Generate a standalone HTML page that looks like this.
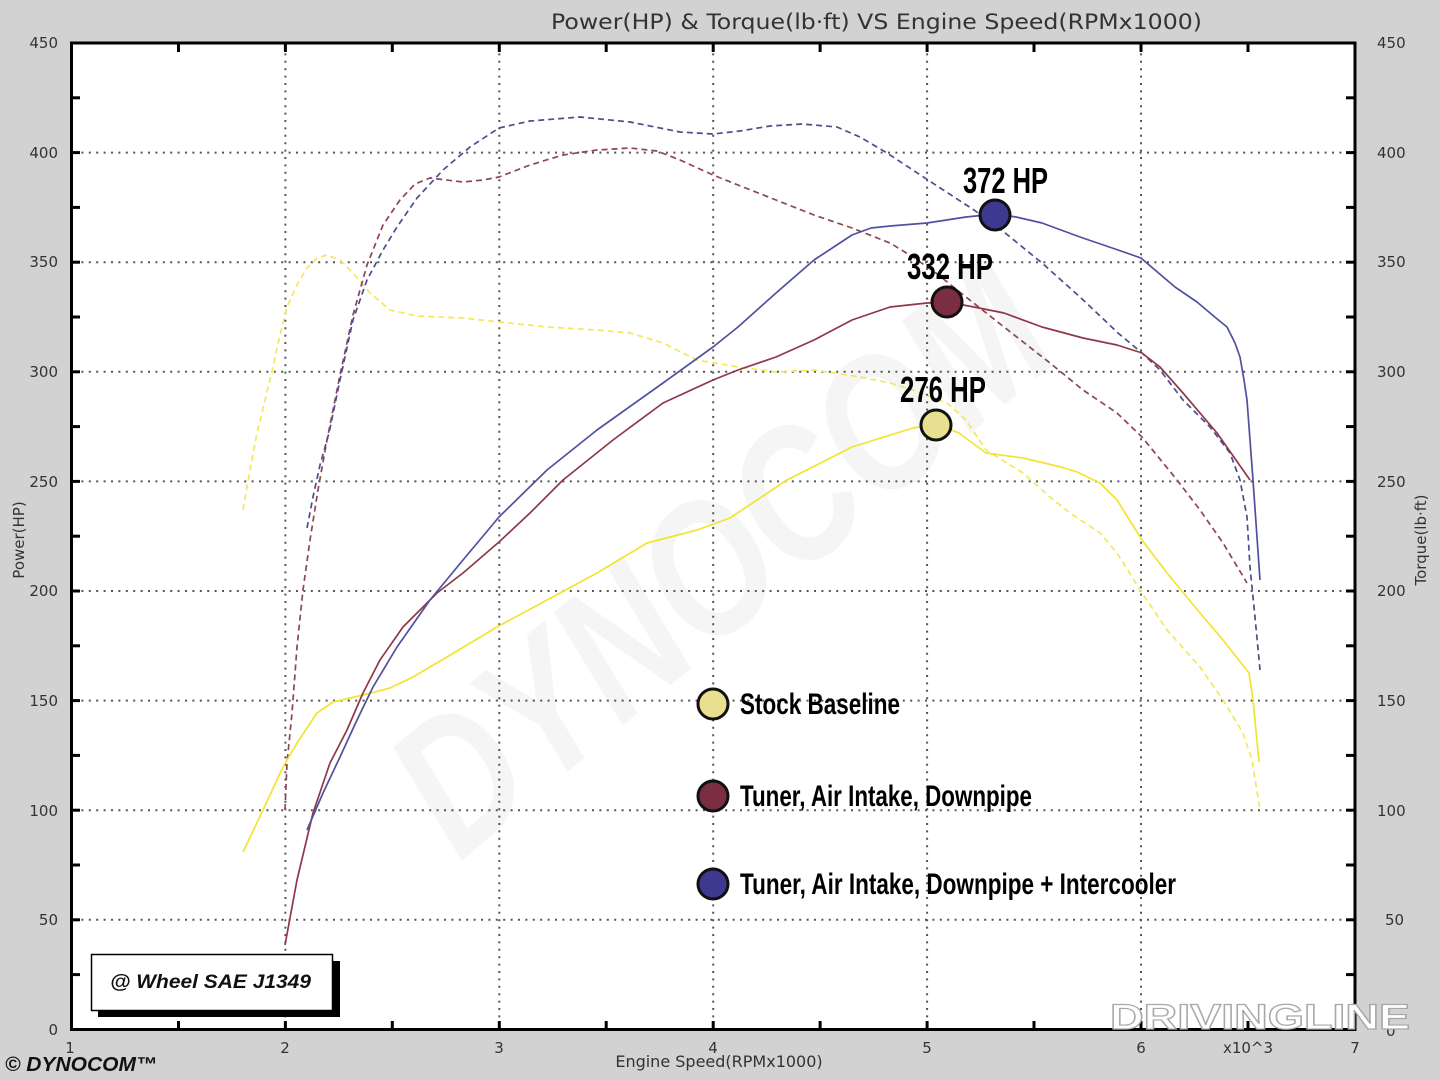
<!DOCTYPE html>
<html><head><meta charset="utf-8"><style>
html,body{margin:0;padding:0;background:#d2d2d2;}
svg{display:block;}
</style></head><body>
<svg width="1440" height="1080" viewBox="0 0 1440 1080" xmlns="http://www.w3.org/2000/svg">
<rect x="0" y="0" width="1440" height="1080" fill="#d2d2d2"/>
<rect x="71.5" y="43" width="1283.5" height="986.5" fill="#ffffff"/>
<!-- DYNOCOM watermark -->
<text x="0" y="0" transform="translate(730,570) rotate(-40)" text-anchor="middle" font-family="Liberation Sans, sans-serif" font-weight="bold" font-style="italic" font-size="190" fill="#f5f5f5" textLength="790" lengthAdjust="spacingAndGlyphs" dominant-baseline="middle">DYNOCOM</text>
<!-- grid -->
<g stroke="#555" stroke-width="2" stroke-dasharray="2 5.4" fill="none">
<line x1="74" y1="152.6" x2="1352" y2="152.6"/>
<line x1="74" y1="262.2" x2="1352" y2="262.2"/>
<line x1="74" y1="371.8" x2="1352" y2="371.8"/>
<line x1="74" y1="481.4" x2="1352" y2="481.4"/>
<line x1="74" y1="591" x2="1352" y2="591"/>
<line x1="74" y1="700.6" x2="1352" y2="700.6"/>
<line x1="74" y1="810.2" x2="1352" y2="810.2"/>
<line x1="74" y1="919.8" x2="1352" y2="919.8"/>
<line x1="285.4" y1="46" x2="285.4" y2="1027"/>
<line x1="499.3" y1="46" x2="499.3" y2="1027"/>
<line x1="713.2" y1="46" x2="713.2" y2="1027"/>
<line x1="927.1" y1="46" x2="927.1" y2="1027"/>
<line x1="1141" y1="46" x2="1141" y2="1027"/>
</g>
<!-- curves: dashed torque -->
<g fill="none" stroke-width="1.7" stroke-linejoin="round" stroke-linecap="butt" stroke-dasharray="6 4">
<polyline stroke="#f3e85a" points="243,510 250,470 257,433 265,400 273,367 280,335 287,307 297,285 307,268 317,258 327,255 340,260 353,273 370,293 390,310 417,316 463,318 499,322 547,327 597,330 630,333 663,343 697,360 738,367 776,372 814,370 860,377 890,383 913,390 947,403 966,420 986,450 1023,473 1050,497 1070,513 1100,533 1117,553 1142,593 1167,630 1200,667 1223,700 1243,733 1252,760 1260,810"/>
<polyline stroke="#8c4656" points="285,810 287,763 292,713 297,647 303,590 310,540 318,490 327,440 340,375 353,315 367,265 383,225 400,200 415,184 430,178 463,182 483,180 499,177 530,165 563,155 597,150 630,148 657,151 680,160 713,175 738,185 776,200 814,215 852,228 890,243 913,257 936,273 966,297 1004,327 1050,363 1083,390 1117,413 1142,437 1177,480 1200,510 1223,543 1247,583"/>
<polyline stroke="#4d4d8e" points="307,528 313,497 320,465 329,433 340,380 353,320 367,280 383,250 397,227 417,198 443,170 470,147 499,128 530,121 580,117 630,122 680,132 713,134 740,131 770,126 802,124 837,127 860,137 887,153 928,180 974,210 1004,232 1042,263 1080,297 1118,333 1142,353 1160,370 1183,400 1210,427 1230,453 1240,480 1247,517 1250,567 1255,617 1260,670"/>
</g>
<!-- solid HP -->
<g fill="none" stroke-width="1.7" stroke-linejoin="round">
<polyline stroke="#f2e431" points="243,852 263,810 283,767 297,743 317,713 333,702 363,695 390,688 413,677 447,657 497,627 547,600 597,573 647,543 697,530 730,518 787,480 852,447 913,428 936,424 959,433 986,453 1023,458 1061,467 1077,472 1100,483 1117,500 1142,540 1167,573 1200,613 1223,640 1249,673 1253,700 1259,762"/>
<polyline stroke="#8e3848" points="285,945 297,880 313,813 330,763 347,730 363,693 380,660 403,627 437,593 463,573 499,542 530,513 563,480 613,440 663,403 713,380 738,370 776,357 814,340 852,320 890,307 927,303 947,302 974,307 1004,313 1042,327 1083,338 1117,345 1142,353 1160,367 1183,393 1217,433 1250,480"/>
<polyline stroke="#5050a0" points="307,830 323,793 340,757 357,720 373,687 397,647 430,600 463,560 499,517 547,470 597,430 663,383 713,347 738,327 776,293 814,260 852,235 871,228 890,226 927,223 966,217 996,214 1016,217 1042,223 1080,237 1118,250 1141,258 1175,287 1197,302 1216,318 1227,327 1235,343 1240,357 1244,380 1247,400 1253,480 1260,580"/>
</g>
<!-- frame -->
<rect x="71.5" y="43" width="1283.5" height="986.5" fill="none" stroke="#000" stroke-width="3"/>
<!-- ticks -->
<g stroke="#000" stroke-width="3">
<line x1="178.5" y1="43" x2="178.5" y2="52"/><line x1="285.4" y1="43" x2="285.4" y2="52"/><line x1="392.3" y1="43" x2="392.3" y2="52"/><line x1="499.3" y1="43" x2="499.3" y2="52"/><line x1="606.2" y1="43" x2="606.2" y2="52"/><line x1="713.2" y1="43" x2="713.2" y2="52"/><line x1="820.1" y1="43" x2="820.1" y2="52"/><line x1="927.1" y1="43" x2="927.1" y2="52"/><line x1="1034" y1="43" x2="1034" y2="52"/><line x1="1141" y1="43" x2="1141" y2="52"/><line x1="1248" y1="43" x2="1248" y2="52"/>
<line x1="178.5" y1="1029.5" x2="178.5" y2="1021"/><line x1="285.4" y1="1029.5" x2="285.4" y2="1021"/><line x1="392.3" y1="1029.5" x2="392.3" y2="1021"/><line x1="499.3" y1="1029.5" x2="499.3" y2="1021"/><line x1="606.2" y1="1029.5" x2="606.2" y2="1021"/><line x1="713.2" y1="1029.5" x2="713.2" y2="1021"/><line x1="820.1" y1="1029.5" x2="820.1" y2="1021"/><line x1="927.1" y1="1029.5" x2="927.1" y2="1021"/><line x1="1034" y1="1029.5" x2="1034" y2="1021"/><line x1="1141" y1="1029.5" x2="1141" y2="1021"/><line x1="1248" y1="1029.5" x2="1248" y2="1021"/>
<line x1="71.5" y1="97.8" x2="80" y2="97.8"/><line x1="71.5" y1="152.6" x2="80" y2="152.6"/><line x1="71.5" y1="207.4" x2="80" y2="207.4"/><line x1="71.5" y1="262.2" x2="80" y2="262.2"/><line x1="71.5" y1="317" x2="80" y2="317"/><line x1="71.5" y1="371.8" x2="80" y2="371.8"/><line x1="71.5" y1="426.6" x2="80" y2="426.6"/><line x1="71.5" y1="481.4" x2="80" y2="481.4"/><line x1="71.5" y1="536.2" x2="80" y2="536.2"/><line x1="71.5" y1="591" x2="80" y2="591"/><line x1="71.5" y1="645.8" x2="80" y2="645.8"/><line x1="71.5" y1="700.6" x2="80" y2="700.6"/><line x1="71.5" y1="755.4" x2="80" y2="755.4"/><line x1="71.5" y1="810.2" x2="80" y2="810.2"/><line x1="71.5" y1="865" x2="80" y2="865"/><line x1="71.5" y1="919.8" x2="80" y2="919.8"/><line x1="71.5" y1="974.6" x2="80" y2="974.6"/>
<line x1="1355" y1="97.8" x2="1346" y2="97.8"/><line x1="1355" y1="152.6" x2="1346" y2="152.6"/><line x1="1355" y1="207.4" x2="1346" y2="207.4"/><line x1="1355" y1="262.2" x2="1346" y2="262.2"/><line x1="1355" y1="317" x2="1346" y2="317"/><line x1="1355" y1="371.8" x2="1346" y2="371.8"/><line x1="1355" y1="426.6" x2="1346" y2="426.6"/><line x1="1355" y1="481.4" x2="1346" y2="481.4"/><line x1="1355" y1="536.2" x2="1346" y2="536.2"/><line x1="1355" y1="591" x2="1346" y2="591"/><line x1="1355" y1="645.8" x2="1346" y2="645.8"/><line x1="1355" y1="700.6" x2="1346" y2="700.6"/><line x1="1355" y1="755.4" x2="1346" y2="755.4"/><line x1="1355" y1="810.2" x2="1346" y2="810.2"/><line x1="1355" y1="865" x2="1346" y2="865"/><line x1="1355" y1="919.8" x2="1346" y2="919.8"/><line x1="1355" y1="974.6" x2="1346" y2="974.6"/>
</g>
<!-- markers -->
<g stroke="#111" stroke-width="3">
<circle cx="995" cy="215" r="15" fill="#3d3890"/>
<circle cx="947" cy="302" r="15" fill="#7b2e42"/>
<circle cx="936" cy="425" r="15" fill="#e8e090"/>
<circle cx="713" cy="704" r="15" fill="#e8e090"/>
<circle cx="713" cy="796" r="15" fill="#7b2e42"/>
<circle cx="713" cy="884" r="15" fill="#3d3890"/>
</g>
<!-- labels HP -->
<g font-family="Liberation Sans Narrow, Liberation Sans, sans-serif" font-weight="bold" fill="#000">
<text x="963" y="193" font-size="36" textLength="85" lengthAdjust="spacingAndGlyphs">372 HP</text>
<text x="907" y="279" font-size="36" textLength="86" lengthAdjust="spacingAndGlyphs">332 HP</text>
<text x="900" y="402" font-size="36" textLength="86" lengthAdjust="spacingAndGlyphs">276 HP</text>
<text x="740" y="714" font-size="30" textLength="160" lengthAdjust="spacingAndGlyphs">Stock Baseline</text>
<text x="740" y="806" font-size="30" textLength="292" lengthAdjust="spacingAndGlyphs">Tuner, Air Intake, Downpipe</text>
<text x="740" y="894" font-size="30" textLength="436" lengthAdjust="spacingAndGlyphs">Tuner, Air Intake, Downpipe + Intercooler</text>
</g>
<!-- title & axis labels -->
<g font-family="DejaVu Sans, Liberation Sans, sans-serif" fill="#333">
<text x="551" y="29" font-size="21" textLength="651" lengthAdjust="spacingAndGlyphs">Power(HP) &amp; Torque(lb·ft) VS Engine Speed(RPMx1000)</text>
<g font-size="15" text-anchor="end">
<text x="58" y="48">450</text><text x="58" y="158">400</text><text x="58" y="267">350</text><text x="58" y="377">300</text><text x="58" y="487">250</text><text x="58" y="596">200</text><text x="58" y="706">150</text><text x="58" y="816">100</text><text x="58" y="925">50</text><text x="58" y="1035">0</text>
</g>
<g font-size="15" text-anchor="start">
<text x="1377" y="48">450</text><text x="1377" y="158">400</text><text x="1377" y="267">350</text><text x="1377" y="377">300</text><text x="1377" y="487">250</text><text x="1377" y="596">200</text><text x="1377" y="706">150</text><text x="1377" y="816">100</text><text x="1385" y="925">50</text><text x="1386" y="1036">0</text>
</g>
<g font-size="15" text-anchor="middle">
<text x="70" y="1053">1</text><text x="285" y="1053">2</text><text x="499" y="1053">3</text><text x="713" y="1053">4</text><text x="927" y="1053">5</text><text x="1141" y="1053">6</text><text x="1248" y="1053">x10^3</text><text x="1355" y="1053">7</text>
<text x="719" y="1067" font-size="16">Engine Speed(RPMx1000)</text>
<text transform="translate(24,540) rotate(-90)" font-size="15">Power(HP)</text>
<text transform="translate(1426,540) rotate(-90)" font-size="15">Torque(lb·ft)</text>
</g>
</g>
<!-- SAE box -->
<rect x="98" y="961" width="242" height="56" fill="#000"/>
<rect x="91.5" y="954.5" width="241" height="56" fill="#fff" stroke="#000" stroke-width="1.5"/>
<text x="110" y="988" font-family="Liberation Sans, sans-serif" font-weight="bold" font-style="italic" font-size="19" fill="#111" textLength="201" lengthAdjust="spacingAndGlyphs">@ Wheel SAE J1349</text>
<!-- copyright -->
<text x="5" y="1071" font-family="Liberation Sans, sans-serif" font-weight="bold" font-style="italic" font-size="20" fill="#111" textLength="152" lengthAdjust="spacingAndGlyphs">© DYNOCOM™</text>
<!-- DRIVINGLINE watermark -->
<text x="1110" y="1029" font-family="Liberation Sans, sans-serif" font-weight="bold" font-size="35" fill="#ffffff" stroke="#a8a8a8" stroke-width="1.2" textLength="300" lengthAdjust="spacingAndGlyphs">DRIVINGLINE</text>
</svg>
</body></html>
